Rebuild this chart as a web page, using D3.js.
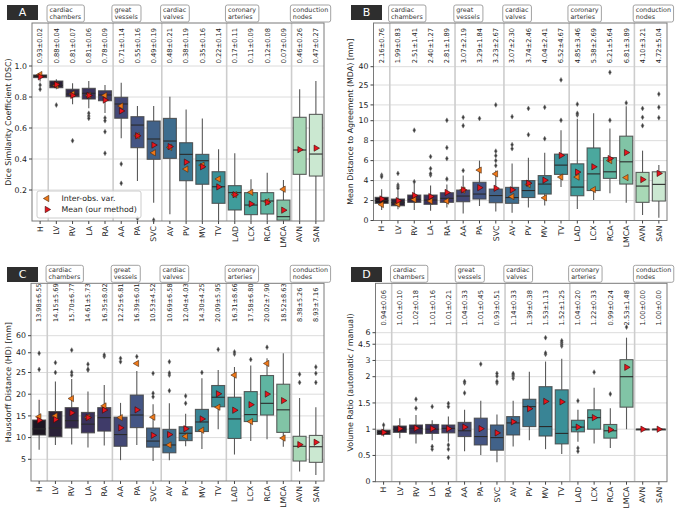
<!DOCTYPE html>
<html><head><meta charset="utf-8">
<script src="https://cdn.jsdelivr.net/npm/d3@7"></script>
<style>body{margin:0;background:#fff} svg{display:block} text{font-family:"DejaVu Sans",sans-serif}</style>
</head><body><svg id="c" width="676" height="513"></svg>
<script>
// ---------- shared data ----------
const categories = ["H","LV","RV","LA","RA","AA","PA","SVC","AV","PV","MV","TV","LAD","LCX","RCA","LMCA","AVN","SAN"];
const groupNames = [["cardiac","chambers"],["great","vessels"],["cardiac","valves"],["coronary","arteries"],["conduction","nodes"]];
const groupStarts = [1,5,8,12,16];
const colors = ["#1c1622","#2a2138","#332a4c","#3a325c","#3f3b69","#434876","#445584","#416289","#3e6d8e","#3b7892","#398495","#3a9098","#3f9c9b","#4ba89e","#5fb5a1","#81c4a6","#a8d8b6","#cbe8d1"];

// ---------- A: DSC ----------
const dscMean = [0.93,0.88,0.81,0.81,0.78,0.71,0.55,0.49,0.48,0.38,0.35,0.22,0.17,0.11,0.12,0.07,0.46,0.47];
const dscSd   = [0.02,0.04,0.07,0.06,0.09,0.14,0.16,0.19,0.21,0.19,0.16,0.14,0.11,0.09,0.08,0.09,0.26,0.27];
const dscInter = [0.945,0.875,0.82,0.81,0.81,0.742,0.55,0.44,0.475,0.335,0.36,0.271,0.17,0.185,0.125,0.205,null,null];
const dscBox = [[0.90,0.925,0.935,0.942,0.955],[0.85,0.86,0.875,0.903,0.914],[0.753,0.802,0.819,0.85,0.888],[0.727,0.787,0.824,0.856,0.903],[0.697,0.776,0.813,0.84,0.877],[0.534,0.663,0.755,0.798,0.892],[0.258,0.473,0.619,0.673,0.742],[0.118,0.398,0.529,0.645,0.742],[0.043,0.404,0.516,0.662,0.802],[0,0.26,0.43,0.505,0.72],[0,0.237,0.389,0.43,0.662],[0,0.114,0.221,0.318,0.463],[0,0.071,0.183,0.228,0.437],[0,0.041,0.103,0.183,0.269],[0,0.045,0.129,0.183,0.312],[0,0.005,0.028,0.135,0.265],[0,0.301,0.458,0.669,0.85],[0,0.29,0.432,0.688,0.903]];
const dscOut = [[0.877,0.85],[0.748],[0.518],[0.695,0.677,0.662],[0.665,0.647,0.576,0.437],[0.368,0.243],[0.017],[0.006],[],[],[],[],[],[],[],[],[],[]];
const dscTicks = [0.2,0.4,0.6,0.8,1.0];

// ---------- B: MDA ----------
const mdaMean = [2.16,1.99,2.51,2.40,2.81,3.07,3.29,3.23,3.07,3.74,4.04,6.52,4.85,5.38,6.21,6.81,4.10,4.72];
const mdaSd   = [0.76,0.83,1.41,1.27,1.89,2.19,1.84,2.67,2.30,2.46,2.41,4.67,3.46,2.69,5.64,3.89,3.21,5.04];
const mdaInter = [1.6,1.65,2.1,1.95,1.95,3.05,5.05,4.67,2.4,3.6,2.27,4.35,4.35,3.1,6.0,4.3,null,null];
const mdaBox = [[1.05,1.72,2.0,2.32,3.12],[1.12,1.48,1.8,2.15,2.98],[1.05,1.82,2.12,2.55,3.72],[0.98,1.62,2.05,2.55,3.5],[1.3,1.82,2.22,2.78,3.6],[0.7,1.88,2.45,3.05,4.5],[1.45,2.15,2.65,3.83,6.0],[0.9,1.78,2.5,3.15,5.0],[0.78,1.72,2.3,3.32,5.7],[1.3,2.3,3.0,4.0,6.3],[1.5,2.65,3.65,4.5,6.8],[3.35,4.62,5.55,6.65,9.05],[1.15,2.48,3.35,5.68,10.5],[2.05,3.0,4.67,7.27,12.1],[2.72,4.22,4.88,6.3,9.22],[1.78,3.65,5.88,8.45,14.5],[0.55,1.82,3.45,4.82,7.0],[0.28,1.95,3.62,4.88,5.55]];
const mdaOut = [[4.55,4.38],[4.72,3.55,3.38,3.22],[3.88,9.05],[4.55,4.7,5.2,6.4],[4.15,6.2,7.3,10.1],[5.0,9.5,10.9],[10.6],[5.5,6.0,6.5,6.95,15.0],[7.2,7.6,11.1],[8.6,13.7],[8.2,14.1],[10.1,28.5],[11.6,12.1,15.3],[],[10.1,34.6],[15.8],[9.5,10.9,13.7],[10.8,14.1,19.8]];
const mdaTicks = [0,2,4,6,8,10,15,25,40];

// ---------- C: HD ----------
const hdMean = [13.98,14.15,15.70,14.61,16.35,12.25,16.39,10.53,10.69,12.04,14.30,20.09,16.31,17.58,20.02,18.52,8.38,8.93];
const hdSd   = [6.55,5.69,6.77,5.73,8.02,6.81,6.01,4.52,6.58,4.03,4.25,5.95,8.66,6.80,7.90,8.63,5.26,7.16];
const hdInter = [14.8,15.0,19.0,14.7,17.3,14.6,31.0,14.7,8.3,10.3,11.7,17.0,24.4,13.7,31.0,9.9,null,null];
const hdBox = [[7.2,10.6,12.0,14.05,18.7],[8.3,10.2,12.2,16.0,22.9],[8.4,12.2,13.9,16.9,23.5],[7.7,11.1,13.1,15.8,20.6],[8.2,11.5,14.6,16.9,22.1],[4.8,8.0,10.7,14.7,18.0],[8.3,12.3,15.2,19.8,25.9],[4.6,7.8,9.2,12.2,17.7],[4.8,6.5,8.3,11.9,17.9],[8.0,9.3,11.0,12.5,15.5],[7.4,11.4,13.6,16.5,23.7],[11.9,17.1,19.3,22.0,26.5],[6.1,9.8,14.3,19.3,28.5],[9.2,13.7,15.3,20.6,29.5],[9.6,15.2,17.9,24.3,35.1],[7.9,11.2,16.4,22.3,39.5],[2.2,4.6,8.0,10.3,19.1],[1.4,4.3,7.9,10.5,17.0]];
const hdOut = [[26.9,39.5],[25.0,31.6],[24.4,25.2,42.6],[26.5,27.0,30.4],[36.5,38.0],[32.3,35.0],[36.5],[19.4,20.2,24.8],[20.8,24.4,24.9,32.3],[17.9,19.6],[25.0],[43.3],[38.8,40.8],[34.0],[45.5],[],[22.7,24.6],[22.7,24.8,28.5]];
const hdTicks = [5,10,15,20,25,40,60];

// ---------- D: Volume ratio ----------
const vrMean = [0.94,1.01,1.02,1.01,1.01,1.04,1.01,0.93,1.14,1.39,1.53,1.52,1.04,1.22,0.99,2.53,1.00,1.00];
const vrSd   = [0.06,0.10,0.18,0.16,0.21,0.33,0.45,0.51,0.33,0.38,1.13,1.25,0.20,0.33,0.24,1.48,0.00,0.00];
const vrInter = [null,null,null,null,null,null,null,null,null,null,null,null,null,null,null,null,null,null];
const vrBox = [[0.86,0.90,0.94,0.98,1.05],[0.83,0.94,1.0,1.06,1.21],[0.73,0.91,1.016,1.08,1.27],[0.79,0.92,1.0,1.09,1.17],[0.76,0.93,1.016,1.08,1.24],[0.58,0.86,0.97,1.13,1.37],[0.51,0.70,0.86,1.21,1.54],[0.37,0.60,0.84,1.08,1.28],[0.67,0.89,1.12,1.24,1.54],[0.79,1.05,1.43,1.57,2.27],[0.62,0.87,1.05,1.81,2.92],[0.53,0.72,0.92,1.75,3.13],[0.76,0.95,1.04,1.17,1.37],[0.73,1.0,1.22,1.37,1.79],[0.64,0.83,0.97,1.09,1.4],[1.0,1.42,2.0,3.06,5.3],[1,1,1,1,1],[1,1,1,1,1]];
const vrOut = [[1.08],[],[1.4,1.57],[0.62,0.67,1.43],[0.46,0.62,0.70,1.43,1.49],[1.69,1.88,1.91],[2.74],[1.88,1.91,2.03,2.17],[1.97,2.03,2.1,2.17],[],[3.5,3.62,5.3],[4.3,4.5,4.7,4.9],[0.58,0.64,1.54],[2.24],[1.67],[6.9],[],[]];
const vrTicks = [0,0.5,1,1.5,2,3,4.5,6];

// ---------- drawing ----------
const svg = d3.select("#c");

function broken(brk, lin, lg){ return v => v <= brk ? lin(v) : lg(v); }

const panels = [
 {letter:"A", title:"Dice Similarity Coefficient (DSC)", x0:32, x1:324, y0:23, y1:221, titleX:8, letterX:7, letterY:5,
  y: d3.scaleLinear().domain([0,1.28]).range([221,22.6]), ticks:dscTicks, fmt:d3.format(".1f"),
  mean:dscMean, sd:dscSd, inter:dscInter, box:dscBox, out:dscOut, statY:63.3, statFont:6.7, legend:true},
 {letter:"B", title:"Mean Distance to Agreement (MDA) [mm]", x0:373.5, x1:667, y0:23, y1:220.5, titleX:350, letterX:351, letterY:5,
  y: broken(10, d3.scaleLinear().domain([0,10]).range([220.5,120.7]), d3.scaleLog().domain([10,40]).range([120.7,66.7])),
  ticks:mdaTicks, fmt:d=>String(d), mean:mdaMean, sd:mdaSd, inter:mdaInter, box:mdaBox, out:mdaOut, statY:63.3, statFont:6.7},
 {letter:"C", title:"Hausdorff Distance (HD) [mm]", x0:31, x1:324, y0:283.3, y1:481, titleX:8, letterX:7, letterY:267,
  y: broken(25, d3.scaleLinear().domain([0,25]).range([481,372.5]), d3.scaleLog().domain([25,60]).range([372.5,335.7])),
  ticks:hdTicks, fmt:d=>String(d), mean:hdMean, sd:hdSd, inter:hdInter, box:hdBox, out:hdOut, statY:322, statFont:6.5},
 {letter:"D", title:"Volume Ratio (automatic / manual)", x0:375.5, x1:667, y0:283.3, y1:481.7, titleX:350, letterX:351, letterY:267,
  y: broken(2, d3.scaleLinear().domain([0,2]).range([481.7,376.7]), d3.scaleLog().domain([2,6]).range([376.7,332.7])),
  ticks:vrTicks, fmt:d=>String(d), mean:vrMean, sd:vrSd, inter:vrInter, box:vrBox, out:vrOut, statY:325.5, statFont:6.7}
];

const triRight = d3.symbol(d3.symbolTriangle, 17);
const diamond = d3.symbol(d3.symbolDiamond, 7);

panels.forEach(p => {
  const g = svg.append("g");
  const x = d3.scaleBand().domain(categories).range([p.x0, p.x1]).paddingInner(0).paddingOuter(0);
  const bw = x.bandwidth()*0.8;
  const cx = c => x(c) + x.bandwidth()/2;

  g.selectAll(".hg").data(p.ticks).join("line")
    .attr("x1", p.x0).attr("x2", p.x1).attr("y1", d=>p.y(d)).attr("y2", d=>p.y(d))
    .attr("stroke", "#dcdcdc").attr("stroke-width", 1);
  g.selectAll(".sep").data(groupStarts).join("line")
    .attr("x1", d=>x(categories[d])).attr("x2", d=>x(categories[d]))
    .attr("y1", p.y0).attr("y2", p.y1).attr("stroke", "#cdcdcd").attr("stroke-width", 1.6);

  categories.forEach((c,i) => {
    const [lo,q1,md,q3,hi] = p.box[i];
    const xc = cx(c);
    g.append("line").attr("x1",xc).attr("x2",xc).attr("y1",p.y(hi)).attr("y2",p.y(q3)).attr("stroke","#5a5a5a").attr("stroke-width",1.1);
    g.append("line").attr("x1",xc).attr("x2",xc).attr("y1",p.y(q1)).attr("y2",p.y(lo)).attr("stroke","#5a5a5a").attr("stroke-width",1.1);
    g.append("rect").attr("x", xc-bw/2).attr("width", bw)
      .attr("y", p.y(q3)).attr("height", Math.max(0.8, p.y(q1)-p.y(q3)))
      .attr("fill", colors[i]).attr("stroke", "#444").attr("stroke-opacity",0.85).attr("stroke-width", 1.1);
    g.append("line").attr("x1",xc-bw/2).attr("x2",xc+bw/2).attr("y1",p.y(md)).attr("y2",p.y(md)).attr("stroke","#2a2a2a").attr("stroke-width",1.1);
    p.out[i].forEach(o => {
      g.append("path").attr("d", diamond).attr("transform", `translate(${xc},${p.y(o)})`)
        .attr("fill", "#3c3c3c").attr("stroke","#777").attr("stroke-width",0.5);
    });
  });
  categories.forEach((c,i) => {
    const xc = cx(c);
    if (p.inter[i] != null) {
      g.append("path").attr("d", triRight).attr("transform", `translate(${xc},${p.y(p.inter[i])}) rotate(-90)`)
        .attr("fill", "#f07818").attr("stroke", "#4a2a10").attr("stroke-width", 0.6);
    }
    g.append("path").attr("d", triRight).attr("transform", `translate(${xc},${p.y(p.mean[i])}) rotate(90)`)
      .attr("fill", "#e8141c").attr("stroke", "#3a0808").attr("stroke-width", 0.6);
  });

  g.append("rect").attr("x", p.x0).attr("y", p.y0).attr("width", p.x1-p.x0).attr("height", p.y1-p.y0)
    .attr("fill","none").attr("stroke","#7a7a7a").attr("stroke-width",1);

  p.ticks.forEach(t => {
    const yy = p.y(t);
    g.append("line").attr("x1",p.x0-3).attr("x2",p.x0).attr("y1",yy).attr("y2",yy).attr("stroke","#444");
    g.append("text").attr("x",p.x0-5).attr("y",yy).attr("dy","0.35em").attr("text-anchor","end")
      .attr("font-size",7.8).attr("fill","#222").text(p.fmt(t));
  });
  categories.forEach(c => {
    const xc = cx(c);
    g.append("line").attr("x1",xc).attr("x2",xc).attr("y1",p.y1).attr("y2",p.y1+3).attr("stroke","#444");
    g.append("text").attr("transform",`translate(${xc},${p.y1+5}) rotate(-90)`).attr("dy","0.35em")
      .attr("text-anchor","end").attr("font-size",7.8).attr("fill","#222").text(c);
  });
  categories.forEach((c,i) => {
    const xc = cx(c);
    g.append("text").attr("transform",`translate(${xc},${p.statY}) rotate(-90)`).attr("dy","0.35em")
      .attr("text-anchor","start").attr("font-size",p.statFont).attr("fill","#1a1a1a")
      .text(p.mean[i].toFixed(2) + "±" + p.sd[i].toFixed(2));
  });
  g.append("text").attr("transform",`translate(${p.titleX},${(p.y0+p.y1)/2}) rotate(-90)`).attr("dy","0.35em")
    .attr("text-anchor","middle").attr("font-size",7.9).attr("fill","#222").text(p.title);

  groupStarts.forEach((s,k) => {
    const bx = x(categories[s]) - 1.2;
    const lg = g.append("g");
    const r = lg.append("rect").attr("x",bx).attr("y",p.y0-18).attr("height",17).attr("rx",2)
      .attr("fill","#fff").attr("stroke","#999").attr("stroke-width",0.9);
    const t = lg.append("text").attr("font-size",6.4).attr("fill","#333");
    groupNames[k].forEach((ln,j) => t.append("tspan").attr("x",bx+2.5).attr("y",p.y0-11.5+j*7.6).text(ln));
    const w = t.node().getBBox().width;
    r.attr("width", w+5);
  });

  g.append("rect").attr("x",p.letterX).attr("y",p.letterY).attr("width",31).attr("height",15).attr("fill","#2e2e2e");
  g.append("text").attr("x",p.letterX+15.5).attr("y",p.letterY+7.5).attr("dy","0.36em").attr("text-anchor","middle")
    .attr("font-size",11).attr("fill","#fff").text(p.letter);

  if (p.legend) {
    const L = g.append("g");
    L.append("rect").attr("x",37).attr("y",191).attr("width",104).attr("height",27).attr("rx",2)
      .attr("fill","#fff").attr("fill-opacity",0.85).attr("stroke","#ccc");
    L.append("path").attr("d",triRight).attr("transform","translate(47,198.5) rotate(-90)")
      .attr("fill","#f07818").attr("stroke","#4a2a10").attr("stroke-width",0.6);
    L.append("path").attr("d",triRight).attr("transform","translate(47,209.5) rotate(90)")
      .attr("fill","#e8141c").attr("stroke","#3a0808").attr("stroke-width",0.6);
    L.append("text").attr("x",61.5).attr("y",198.5).attr("dy","0.35em").attr("font-size",7.8).attr("fill","#222").text("Inter-obs. var.");
    L.append("text").attr("x",61.5).attr("y",209.5).attr("dy","0.35em").attr("font-size",7.8).attr("fill","#222").text("Mean (our method)");
  }
});
</script></body></html>
